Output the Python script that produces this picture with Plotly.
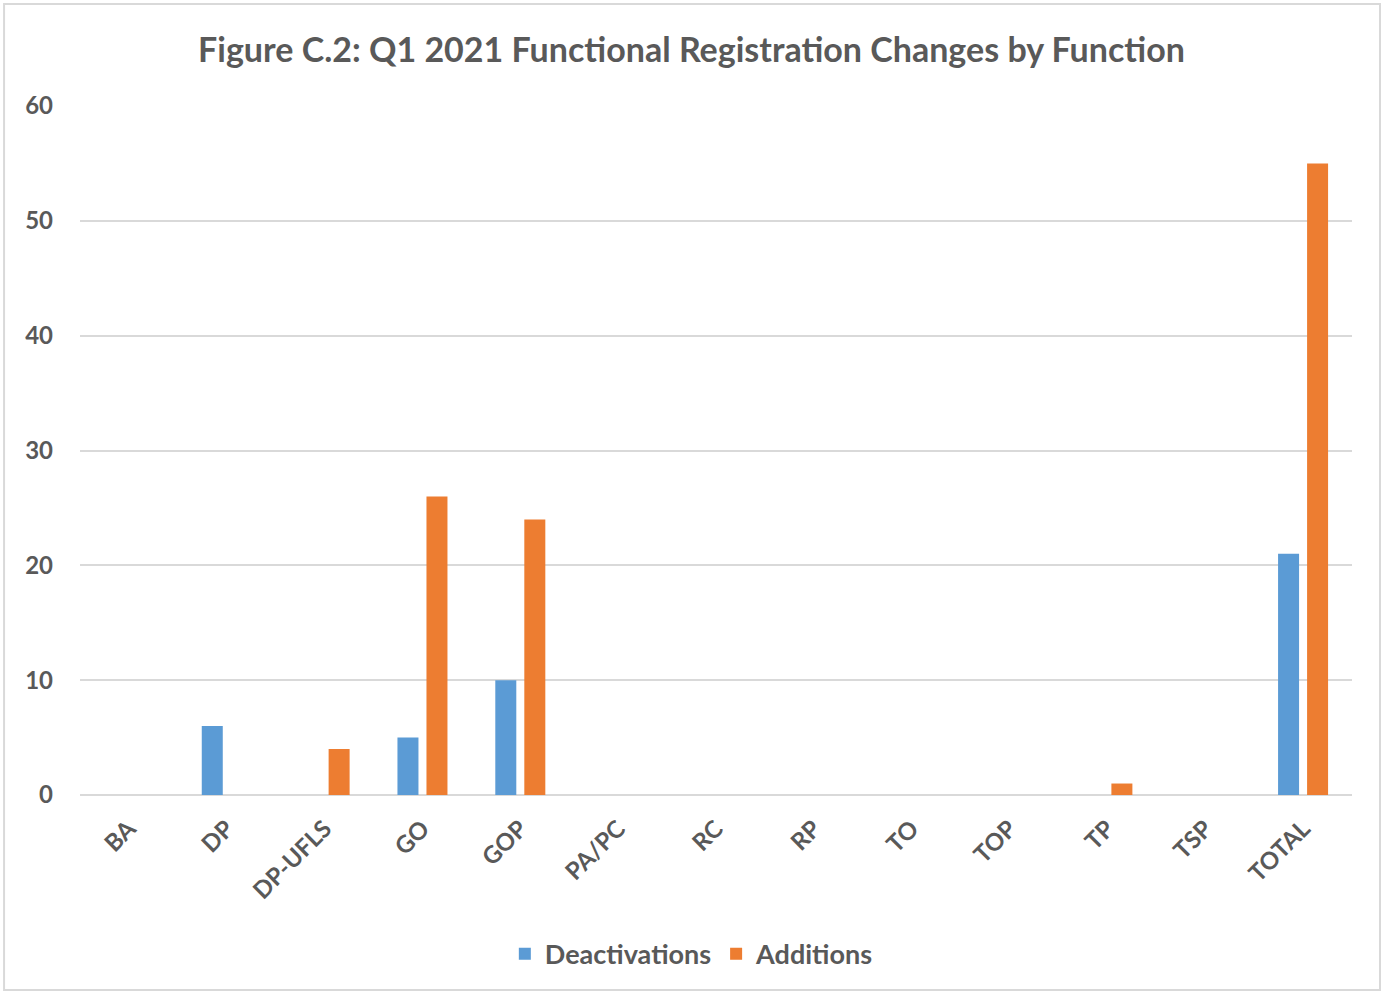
import plotly.graph_objects as go

functions = ["BA", "DP", "DP-UFLS", "GO", "GOP", "PA/PC", "RC", "RP",
             "TO", "TOP", "TP", "TSP", "TOTAL"]
deactivations = [0, 6, 0, 5, 10, 0, 0, 0, 0, 0, 0, 0, 21]
additions = [0, 0, 4, 26, 24, 0, 0, 0, 0, 0, 1, 0, 55]

text_color = "#595959"
font_family = "Lato, 'Open Sans', sans-serif"

fig = go.Figure()
fig.add_trace(go.Bar(x=functions, y=deactivations, name="Deactivations",
                     marker=dict(color="#5B9BD5", line=dict(width=0))))
fig.add_trace(go.Bar(x=functions, y=additions, name="Additions",
                     marker=dict(color="#ED7D31", line=dict(width=0))))

fig.update_layout(
    width=1383, height=994,
    margin=dict(l=80, r=31, t=106, b=199),
    paper_bgcolor="white", plot_bgcolor="white",
    font=dict(family=font_family, color=text_color, size=24),
    title=dict(text="Figure C.2: Q1 2021 Functional Registration Changes by Function",
               x=0.5, xanchor="center", y=0.95, yanchor="middle",
               font=dict(size=34, color=text_color, family=font_family, weight="bold")),
    barmode="group", bargap=0.407, bargroupgap=0.276,
    showlegend=True,
    legend=dict(orientation="h", x=0.481, xanchor="center", y=-0.231, yanchor="middle",
                font=dict(size=27, color=text_color, weight="bold"), itemwidth=30,
                traceorder="normal"),
    xaxis=dict(tickangle=-45, showgrid=False, showline=False, ticks="",
               ticklabelstandoff=14,
               tickfont=dict(size=24, color=text_color, weight="bold")),
    yaxis=dict(range=[0, 60], dtick=10, showgrid=True, gridcolor="#d9d9d9",
               gridwidth=2, zeroline=True, zerolinecolor="#d9d9d9", zerolinewidth=2,
               showline=False, ticks="", ticklabelstandoff=26,
               tickfont=dict(size=24, color=text_color, weight="bold")),
    shapes=[dict(type="rect", xref="paper", yref="paper",
                 x0=-0.0597, x1=1.022, y0=-0.283, y1=1.148,
                 line=dict(color="#d9d9d9", width=2), layer="below")],
)

fig.write_html("out.html", config={"displayModeBar": False},
               post_script="document.body.style.margin='0';")
